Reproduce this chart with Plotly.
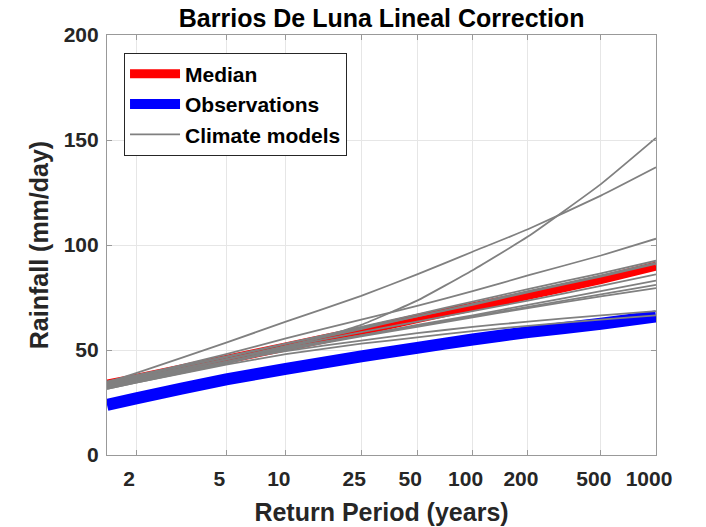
import numpy as np
import plotly.graph_objects as go

# Return periods (years) at which curves are read
return_periods = [1.582, 2, 5, 10, 25, 50, 100, 200, 500, 1000]

median = [33.8, 36.5, 45.5, 51.5, 59.0, 65.0, 70.5, 76.0, 83.5, 90.0]
observations = [23.8, 27.0, 36.0, 41.0, 47.0, 51.0, 55.0, 58.5, 62.5, 66.0]

climate_models = [
    [31.5, 34.5, 43.5, 51.0, 62.0, 73.5, 88.0, 104.0, 129.0, 151.0],
    [34.5, 39.0, 53.5, 63.5, 75.8, 86.0, 96.8, 107.5, 123.5, 137.0],
    [34.0, 37.5, 48.0, 55.5, 64.5, 71.0, 78.0, 85.5, 95.0, 103.0],
    [34.5, 37.5, 46.5, 53.0, 61.0, 67.0, 73.0, 79.0, 86.5, 92.5],
    [33.0, 36.0, 45.5, 52.0, 60.0, 66.0, 72.0, 78.0, 85.5, 91.5],
    [35.0, 38.0, 47.0, 53.0, 60.5, 66.0, 71.5, 77.5, 85.0, 91.0],
    [33.5, 36.5, 45.5, 51.5, 58.5, 63.5, 68.5, 73.5, 80.5, 86.0],
    [32.5, 35.5, 44.5, 50.5, 57.0, 62.0, 66.5, 71.5, 78.0, 83.0],
    [34.0, 37.0, 45.5, 51.0, 57.0, 61.5, 66.0, 70.5, 76.5, 81.0],
    [32.0, 35.0, 44.0, 50.0, 56.5, 61.0, 65.5, 70.0, 75.5, 79.5],
    [33.0, 36.0, 44.5, 49.5, 54.5, 58.0, 61.0, 63.5, 66.5, 68.5],
    [31.5, 34.5, 43.0, 48.0, 53.0, 56.0, 59.0, 61.5, 64.5, 66.5],
]

x_tick_labels = ["2", "5", "10", "25", "50", "100", "200", "500", "1000"]
x_tick_periods = [2, 5, 10, 25, 50, 100, 200, 500, 1000]
y_ticks = [0, 50, 100, 150, 200]


def gumbel(T):
    T = np.asarray(T, dtype=float)
    return -np.log(-np.log(1.0 - 1.0 / T))


xu = gumbel(return_periods)
font_family = "Liberation Sans, Arial, sans-serif"

fig = go.Figure()
fig.add_trace(go.Scatter(x=xu, y=median, mode="lines", name="<b>Median</b>",
                         line=dict(color="#ff0000", width=9, shape="spline", smoothing=0.4),
                         legendrank=1))
fig.add_trace(go.Scatter(x=xu, y=observations, mode="lines", name="<b>Observations</b>",
                         line=dict(color="#0000ff", width=12, shape="spline", smoothing=0.4),
                         legendrank=2))
for i, m in enumerate(climate_models):
    fig.add_trace(go.Scatter(x=xu, y=m, mode="lines", name="<b>Climate models</b>",
                             line=dict(color="#808080", width=1.8, shape="spline", smoothing=0.4),
                             showlegend=(i == 0), legendrank=3))

fig.update_layout(
    width=706, height=527,
    margin=dict(l=107, r=50, t=35, b=72),
    paper_bgcolor="white", plot_bgcolor="white",
    font=dict(family=font_family, color="#262626"),
    title=dict(text="<b>Barrios De Luna Lineal Correction</b>", x=0.5405, xanchor="center",
               y=0.966, yanchor="middle", font=dict(size=25, color="#000000")),
    legend=dict(x=0.031, y=0.958, xanchor="left", yanchor="top",
                bgcolor="white", bordercolor="#262626", borderwidth=1,
                font=dict(size=21, color="#000000"),
                traceorder="normal", itemwidth=50),
    showlegend=True,
)
fig.update_xaxes(
    range=[0, float(gumbel(1000))],
    tickvals=gumbel(x_tick_periods), ticktext=["<b>%s</b>" % t for t in x_tick_labels],
    tickfont=dict(size=21, color="#262626"), ticklabelshift=-7, ticklabelstandoff=5,
    ticks="inside", ticklen=5, tickcolor="#999999",
    showgrid=True, gridcolor="#e6e6e6", gridwidth=1,
    showline=True, linecolor="#999999", linewidth=1.2, mirror="allticks",
    zeroline=False, automargin=False,
    title=dict(text="<b>Return Period (years)</b>", font=dict(size=25, color="#262626"), standoff=14),
)
fig.update_yaxes(
    range=[0, 200], tickvals=y_ticks, ticktext=["<b>%d</b>" % v for v in y_ticks],
    tickfont=dict(size=21, color="#262626"), ticklabelstandoff=3,
    ticks="inside", ticklen=5, tickcolor="#999999",
    showgrid=True, gridcolor="#e6e6e6", gridwidth=1,
    showline=True, linecolor="#999999", linewidth=1.2, mirror="allticks",
    zeroline=False, automargin=False,
    title=dict(text="<b>Rainfall (mm/day)</b>", font=dict(size=25, color="#262626"), standoff=7),
)

fig.write_html("out.html")
